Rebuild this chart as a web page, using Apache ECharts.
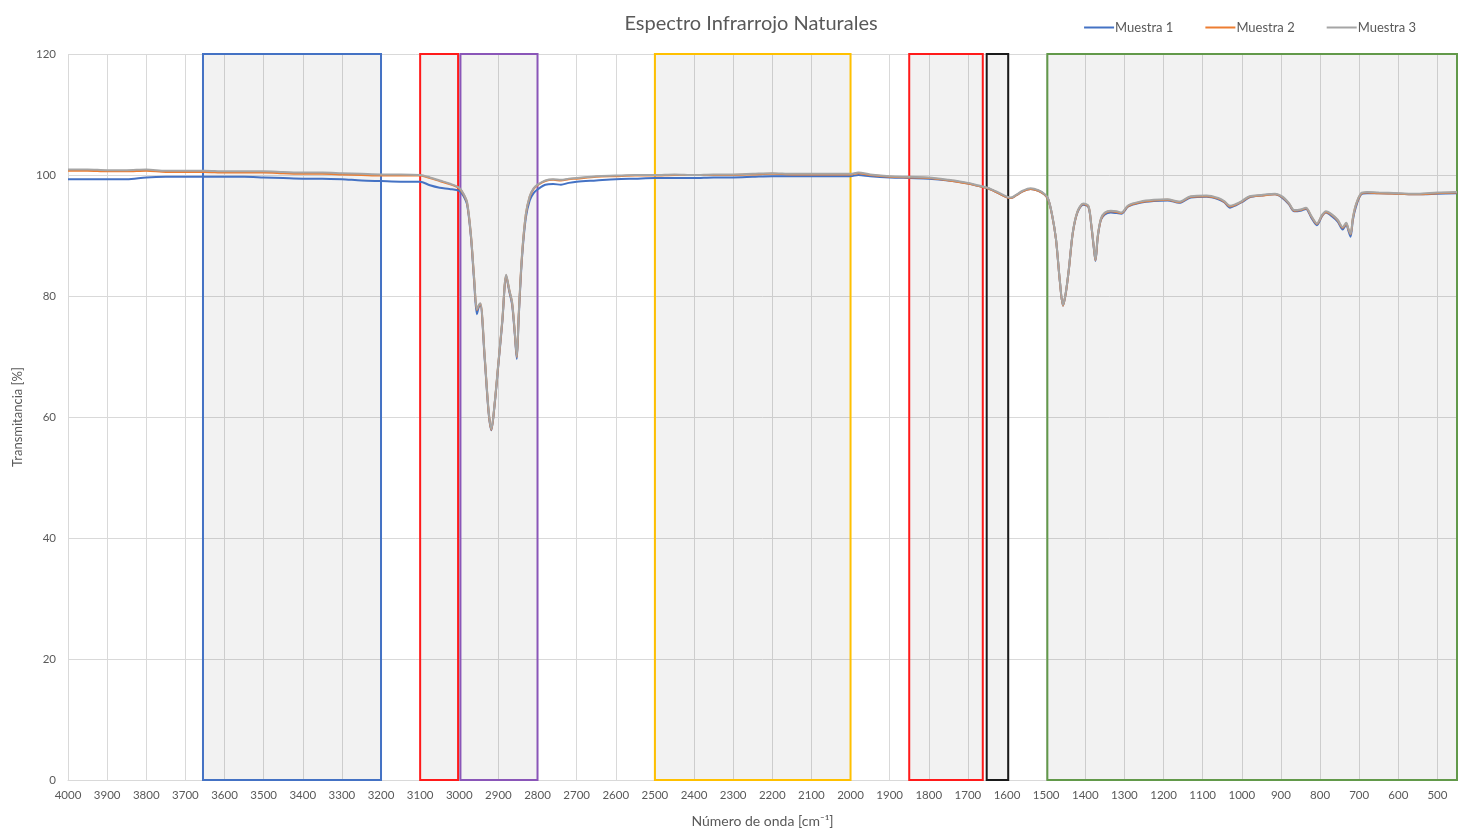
<!DOCTYPE html>
<html>
<head>
<meta charset="utf-8">
<script src="https://cdn.jsdelivr.net/npm/echarts@6/dist/echarts.min.js"></script>
<style>
html,body{margin:0;padding:0;background:#fff;}
#chart{width:1459px;height:835px;}
</style>
</head>
<body>
<div id="chart"></div>
<script>
// Wavenumbers (cm^-1), descending
const wavenumbers = [4000,3950,3900,3850,3800,3750,3700,3650,3600,3550,3500,3450,3400,3350,3300,3250,3200,3150,3100,3075,3050,3025,3000,2990,2980,2970,2962,2955,2950,2946,2935,2925,2918,2910,2900,2890,2880,2872,2865,2858,2853,2848,2840,2830,2820,2810,2800,2780,2760,2740,2720,2700,2650,2600,2550,2500,2450,2400,2350,2300,2250,2200,2150,2100,2050,2000,1980,1950,1900,1850,1800,1750,1700,1675,1650,1625,1600,1590,1575,1560,1540,1520,1505,1495,1485,1475,1465,1457,1450,1442,1432,1420,1405,1392,1385,1378,1374,1368,1360,1350,1335,1320,1308,1290,1260,1225,1190,1160,1130,1090,1060,1045,1030,1015,1000,980,950,915,898,880,866,850,836,822,808,795,785,770,755,742,733,728,722,716,708,695,680,650,600,550,500,450];

// Muestra 3 (gray)
const muestra3 = [100.9,100.9,100.8,100.8,100.9,100.7,100.7,100.7,100.6,100.6,100.6,100.5,100.4,100.4,100.3,100.2,100.1,100.1,100.0,99.6,99.1,98.6,97.9,97.0,95.5,90.0,83.0,77.8,78.5,78.8,70.0,61.0,58.0,62.0,69.0,76.0,83.5,81.0,79.0,74.0,70.0,77.0,86.5,93.5,96.5,97.8,98.4,99.1,99.3,99.2,99.4,99.5,99.8,99.9,100.0,100.0,100.1,100.0,100.1,100.1,100.2,100.3,100.2,100.2,100.2,100.2,100.4,100.1,99.8,99.7,99.6,99.2,98.7,98.3,97.9,97.2,96.4,96.3,96.8,97.4,97.8,97.5,96.9,96.1,93.5,89.5,82.5,78.5,80.5,84.5,90.5,94.0,95.3,94.9,92.0,88.0,86.0,90.0,92.8,93.8,94.1,94.0,93.8,95.0,95.6,95.9,96.0,95.6,96.5,96.6,96.2,95.7,94.9,95.2,95.7,96.5,96.7,96.9,96.5,95.4,94.2,94.3,94.6,93.2,92.0,93.4,94.0,93.5,92.6,91.4,92.1,91.2,90.3,93.0,95.2,97.0,97.2,97.1,97.0,96.9,97.1,97.2];

// Muestra 2 (orange)
const muestra2 = [100.7,100.7,100.6,100.6,100.7,100.5,100.5,100.5,100.4,100.4,100.4,100.3,100.2,100.2,100.1,100.0,99.9,99.9,99.9,99.5,99.0,98.5,97.8,96.9,95.4,89.9,82.9,77.7,78.4,78.7,69.9,60.9,57.9,61.9,68.9,75.9,83.4,80.9,78.9,73.9,69.9,76.9,86.4,93.4,96.4,97.7,98.3,99.0,99.2,99.1,99.3,99.4,99.7,99.8,99.9,99.9,100.0,100.0,100.0,100.0,100.1,100.2,100.1,100.1,100.1,100.1,100.3,100.0,99.7,99.6,99.5,99.1,98.6,98.2,97.8,97.1,96.3,96.2,96.7,97.3,97.7,97.4,96.8,96.0,93.4,89.4,82.4,78.4,80.4,84.4,90.4,93.9,95.2,94.8,91.9,87.9,85.9,89.9,92.7,93.7,94.0,93.9,93.7,94.9,95.5,95.8,95.9,95.5,96.4,96.5,96.1,95.6,94.8,95.1,95.6,96.4,96.6,96.8,96.4,95.3,94.1,94.2,94.5,93.1,91.9,93.3,93.9,93.4,92.5,91.3,92.0,91.1,90.2,92.9,95.1,96.9,97.1,97.0,96.9,96.8,97.0,97.1];

// Muestra 1 (blue)
const muestra1 = [99.3,99.3,99.3,99.3,99.6,99.7,99.7,99.7,99.7,99.7,99.6,99.5,99.4,99.4,99.3,99.1,99.0,98.9,98.9,98.3,97.9,97.7,97.4,96.6,95.1,89.6,82.4,77.0,78.2,78.4,69.6,60.7,57.8,61.8,68.7,75.7,83.2,80.7,78.6,73.6,69.6,76.5,86.0,92.9,95.8,97.0,97.6,98.4,98.5,98.4,98.7,98.9,99.1,99.3,99.4,99.5,99.5,99.5,99.6,99.6,99.7,99.8,99.8,99.8,99.8,99.8,100.0,99.8,99.6,99.5,99.4,99.1,98.6,98.2,97.8,97.1,96.3,96.2,96.7,97.3,97.7,97.4,96.8,96.0,93.4,89.4,82.4,78.4,80.4,84.4,90.4,93.8,95.1,94.7,91.8,87.8,85.8,89.8,92.6,93.5,93.8,93.7,93.6,94.8,95.4,95.7,95.8,95.4,96.3,96.4,96.0,95.5,94.6,95.0,95.5,96.3,96.6,96.8,96.3,95.2,94.0,94.1,94.4,92.9,91.7,93.2,93.8,93.2,92.3,91.0,91.8,90.9,89.8,92.6,94.8,96.8,97.0,97.0,96.9,96.8,96.9,97.0];

const seriesNames = ['Muestra 1','Muestra 2','Muestra 3'];
const xTickLabels = [4000,3900,3800,3700,3600,3500,3400,3300,3200,3100,3000,2900,2800,2700,2600,2500,2400,2300,2200,2100,2000,1900,1800,1700,1600,1500,1400,1300,1200,1100,1000,900,800,700,600,500];
const yTickLabels = [0,20,40,60,80,100,120];

// Highlighted regions [from, to] in cm^-1
const regions = [
  {from:3655, to:3200, color:'#4472C4'},
  {from:3100, to:3003, color:'#FF1A1A'},
  {from:2997, to:2800, color:'#8A56B8'},
  {from:2500, to:2000, color:'#FFC000'},
  {from:1850, to:1662, color:'#FF1A1A'},
  {from:1652, to:1597, color:'#1a1a1a'},
  {from:1497, to:450,  color:'#62994A'}
];

function pairs(vals){ return wavenumbers.map((w,i)=>[w, vals[i]]); }

const chart = echarts.init(document.getElementById('chart'));
const fontFam = 'Lato, "Liberation Sans", sans-serif';
const textColor = '#595959';

chart.setOption({
  animation:false,
  backgroundColor:'#fff',
  title:{
    text:'Espectro Infrarrojo Naturales',
    left:746, textAlign:'center', top:9,
    textStyle:{fontFamily:fontFam, fontSize:20, fontWeight:'normal', color:textColor}
  },
  legend:{
    data:seriesNames,
    right:38, top:16,
    itemWidth:30, itemHeight:2, itemGap:32,
    icon:'rect',
    textStyle:{fontFamily:fontFam, fontSize:13, color:textColor, padding:[0,0,0,-4]}
  },
  grid:{left:68, right:2, top:54, bottom:55},
  xAxis:{
    type:'value', inverse:true, min:450, max:4000,
    name:'Número de onda [cm⁻¹]', nameLocation:'middle', nameGap:34,
    nameTextStyle:{fontFamily:fontFam, fontSize:14, color:textColor},
    axisLine:{show:true, lineStyle:{color:'#d9d9d9', width:1}},
    axisTick:{show:false, customValues:xTickLabels},
    axisLabel:{customValues:xTickLabels, formatter:v=>String(v), fontFamily:fontFam, fontSize:11.5, color:textColor, margin:9},
    splitLine:{show:true, lineStyle:{color:'#d9d9d9', width:1}}
  },
  yAxis:{
    type:'value', min:0, max:120, interval:20,
    name:'Transmitancia [%]', nameLocation:'middle', nameGap:44,
    nameTextStyle:{fontFamily:fontFam, fontSize:13, color:textColor},
    axisLine:{show:false}, axisTick:{show:false},
    axisLabel:{fontFamily:fontFam, fontSize:11.5, color:textColor, margin:12,
      customValues:yTickLabels},
    splitLine:{show:true, lineStyle:{color:'#d9d9d9', width:1}}
  },
  series:[
    {
      name:seriesNames[0], type:'line', data:pairs(muestra1),
      showSymbol:false, symbol:'none', smooth:0.3,
      lineStyle:{color:'#4472C4', width:2}, itemStyle:{color:'#4472C4'},
      z:2,
      markArea:{
        silent:true, z:1,
        data:regions.map(r=>[
          {xAxis:r.from, yAxis:0, itemStyle:{color:'rgba(0,0,0,0.05)', borderColor:r.color, borderWidth:2}},
          {xAxis:r.to, yAxis:120}
        ])
      }
    },
    {
      name:seriesNames[1], type:'line', data:pairs(muestra2),
      showSymbol:false, symbol:'none', smooth:0.3,
      lineStyle:{color:'#ED7D31', width:2}, itemStyle:{color:'#ED7D31'}, z:3
    },
    {
      name:seriesNames[2], type:'line', data:pairs(muestra3),
      showSymbol:false, symbol:'none', smooth:0.3,
      lineStyle:{color:'#A5A5A5', width:2}, itemStyle:{color:'#A5A5A5'}, z:4
    }
  ]
});
</script>
</body>
</html>
